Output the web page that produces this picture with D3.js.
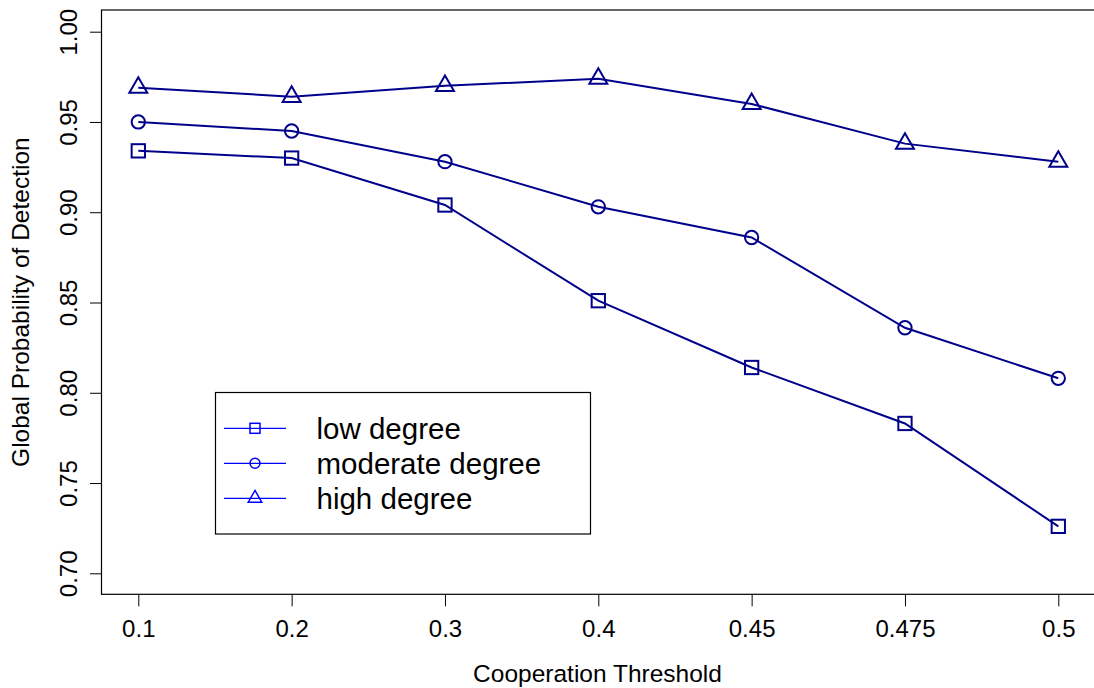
<!DOCTYPE html>
<html>
<head>
<meta charset="utf-8">
<script src="https://cdn.jsdelivr.net/npm/d3@7"></script>
<style>
  html, body { margin: 0; padding: 0; background: #fff; }
  svg { display: block; font-family: "Liberation Sans", Arial, sans-serif; }
</style>
</head>
<body>
<svg id="chart" width="1094" height="688"></svg>
<script>
// Cooperation thresholds (categorical, evenly spaced)
const thresholds = ["0.1", "0.2", "0.3", "0.4", "0.45", "0.475", "0.5"];

// Global probability of detection per network degree
const lowDegree      = [0.934, 0.930, 0.904, 0.851, 0.814, 0.783, 0.726];
const moderateDegree = [0.950, 0.945, 0.928, 0.903, 0.886, 0.836, 0.808];
const highDegree     = [0.969, 0.964, 0.970, 0.974, 0.960, 0.938, 0.928];

const seriesNames = ["low degree", "moderate degree", "high degree"];
const seriesShapes = ["square", "circle", "triangle"];
const yTicks = [0.70, 0.75, 0.80, 0.85, 0.90, 0.95, 1.00];

const series = [lowDegree, moderateDegree, highDegree].map((vals, i) => ({
  name: seriesNames[i],
  shape: seriesShapes[i],
  values: vals.map((v, j) => ({ t: thresholds[j], v }))
}));

const svg = d3.select("#chart");
const box = { left: 101, right: 1095, top: 10, bottom: 594.3 };

const x = d3.scalePoint().domain(thresholds).range([138.3, 1058.3]).padding(0);
const y = d3.scaleLinear().domain([0.70, 1.00]).range([573.3, 31.7]);

const lineColor = "#00008B";
const legendColor = "#0000FF";

// marker drawing helper
function marker(sel, shape, size, color, sw) {
  if (shape === "square") {
    sel.append("rect")
      .attr("x", -size / 2).attr("y", -size / 2)
      .attr("width", size).attr("height", size)
      .attr("fill", "none").attr("stroke", color).attr("stroke-width", sw);
  } else if (shape === "circle") {
    sel.append("circle").attr("r", size / 2)
      .attr("fill", "none").attr("stroke", color).attr("stroke-width", sw);
  } else {
    const r = size * 0.78;
    const h = r * Math.sqrt(3) / 2;
    sel.append("path")
      .attr("d", `M0,${-r} L${h},${r / 2} L${-h},${r / 2} Z`)
      .attr("fill", "none").attr("stroke", color).attr("stroke-width", sw)
      .attr("stroke-linejoin", "miter");
  }
}

// axes
const xAxis = svg.append("g")
  .attr("transform", `translate(0,${box.bottom})`)
  .call(d3.axisBottom(x).tickSize(12).tickPadding(10));
xAxis.select(".domain").remove();
xAxis.selectAll("line").attr("stroke", "#000");
xAxis.selectAll("text")
  .attr("font-size", 24).attr("fill", "#000")
  .attr("font-family", "Liberation Sans, Arial, sans-serif")
  .attr("dy", null).attr("y", 42.5);

const yAxis = svg.append("g")
  .attr("transform", `translate(${box.left},0)`)
  .call(d3.axisLeft(y).tickValues(yTicks).tickFormat(d3.format(".2f")).tickSize(11));
yAxis.select(".domain").remove();
yAxis.selectAll("line").attr("stroke", "#000");
yAxis.selectAll("text")
  .attr("x", null).attr("dy", null)
  .attr("transform", "translate(-24,0) rotate(-90)")
  .attr("text-anchor", "middle")
  .attr("font-size", 24).attr("fill", "#000")
  .attr("font-family", "Liberation Sans, Arial, sans-serif");

// plot frame
svg.append("rect")
  .attr("x", box.left + 0.5).attr("y", box.top)
  .attr("width", box.right - box.left).attr("height", box.bottom - box.top)
  .attr("fill", "none").attr("stroke", "#000").attr("stroke-width", 1.2);

// axis titles
svg.append("text")
  .attr("x", (box.left + box.right) / 2 - 0.5).attr("y", 682)
  .attr("text-anchor", "middle").attr("font-size", 24.5)
  .text("Cooperation Threshold");

svg.append("text")
  .attr("transform", `translate(29,${(box.top + box.bottom) / 2}) rotate(-90)`)
  .attr("text-anchor", "middle").attr("font-size", 24.5)
  .text("Global Probability of Detection");

// series lines and markers
const line = d3.line().x(d => x(d.t)).y(d => y(d.v));
const sg = svg.selectAll(".series").data(series).join("g").attr("class", "series");
sg.append("path")
  .attr("d", d => line(d.values))
  .attr("fill", "none").attr("stroke", lineColor).attr("stroke-width", 2);
sg.each(function (s) {
  d3.select(this).selectAll(".pt").data(s.values).join("g")
    .attr("class", "pt")
    .attr("transform", d => `translate(${x(d.t)},${y(d.v)})`)
    .each(function () { marker(d3.select(this), s.shape, 13.3, lineColor, 2); });
});

// legend
const legend = svg.append("g");
legend.append("rect")
  .attr("x", 215.5).attr("y", 392.5).attr("width", 375).attr("height", 141.5)
  .attr("fill", "#fff").attr("stroke", "#000").attr("stroke-width", 1.2);
const rows = legend.selectAll(".row").data(series).join("g")
  .attr("class", "row")
  .attr("transform", (d, i) => `translate(0,${428.3 + i * 35})`);
rows.append("line")
  .attr("x1", 224).attr("x2", 286).attr("y1", 0).attr("y2", 0)
  .attr("stroke", legendColor).attr("stroke-width", 1.2);
rows.each(function (s) {
  const g = d3.select(this).append("g").attr("transform", "translate(255,0)");
  marker(g, s.shape, 10, legendColor, 1.5);
});
rows.append("text")
  .attr("x", 316.5).attr("y", 10.8)
  .attr("font-size", 29.5).attr("fill", "#000")
  .text(d => d.name);
</script>
</body>
</html>
